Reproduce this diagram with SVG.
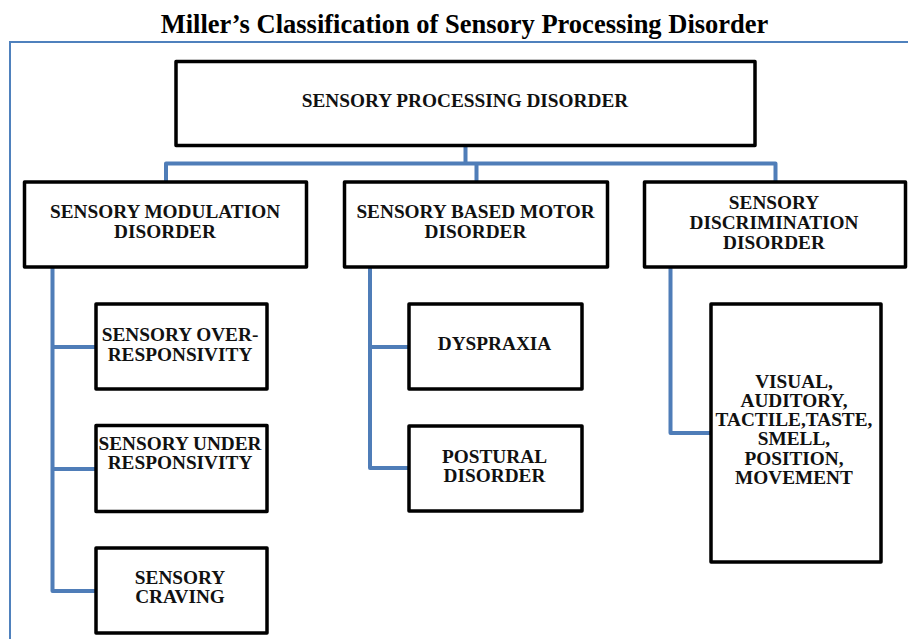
<svg xmlns="http://www.w3.org/2000/svg" width="908" height="639" viewBox="0 0 908 639">
<style>
.title{font-family:"Liberation Serif","Times New Roman",serif;font-weight:bold;font-size:26.5px;fill:#000;text-anchor:middle}
.box{fill:#fff;stroke:#000;stroke-width:3.5;stroke-linejoin:round}
.lbl{font-family:"Liberation Serif","Times New Roman",serif;font-weight:bold;font-size:19.3px;fill:#111;text-anchor:middle}
.conn{fill:none;stroke:#4F7DB8;stroke-width:4;stroke-linejoin:round}
.frame{fill:none;stroke:#4F81BD;stroke-width:2}
</style>
<rect width="908" height="639" fill="#fff"/>
<text class="title" x="464.5" y="33">Miller’s Classification of Sensory Processing Disorder</text>
<path class="frame" d="M10,640 V42 H909"/>
<g id="connectors">
<path class="conn" d="M465.5,147 V163.5 M166,182 V163.5 H775.5 V182 M476.5,163.5 V182"/>
<path class="conn" d="M52.5,268 V591 H95 M52.5,347 H95 M52.5,469 H95"/>
<path class="conn" d="M370,268 V468 H408 M370,347 H408"/>
<path class="conn" d="M670.5,268 V433 H710"/>
</g>
<g id="spd">
<rect class="box" x="176" y="61.5" width="579" height="84"/>
<text class="lbl" x="465" y="107">SENSORY PROCESSING DISORDER</text>
</g>
<g id="smd">
<rect class="box" x="24.5" y="182" width="282" height="85"/>
<text class="lbl" x="165" y="218">SENSORY MODULATION</text>
<text class="lbl" x="165" y="238">DISORDER</text>
</g>
<g id="sbmd">
<rect class="box" x="344.5" y="182" width="263" height="85"/>
<text class="lbl" x="475.5" y="218">SENSORY BASED MOTOR</text>
<text class="lbl" x="475.5" y="238">DISORDER</text>
</g>
<g id="sdd">
<rect class="box" x="644.5" y="182" width="261" height="85"/>
<text class="lbl" x="774" y="209">SENSORY</text>
<text class="lbl" x="774" y="229">DISCRIMINATION</text>
<text class="lbl" x="774" y="249">DISORDER</text>
</g>
<g id="over">
<rect class="box" x="96" y="304" width="171" height="85"/>
<text class="lbl" x="180" y="341">SENSORY OVER-</text>
<text class="lbl" x="180" y="360.5">RESPONSIVITY</text>
</g>
<g id="under">
<rect class="box" x="96" y="425.5" width="171" height="86"/>
<text class="lbl" x="180" y="450">SENSORY UNDER</text>
<text class="lbl" x="180" y="469">RESPONSIVITY</text>
</g>
<g id="craving">
<rect class="box" x="96" y="548" width="171" height="85"/>
<text class="lbl" x="180" y="584">SENSORY</text>
<text class="lbl" x="180" y="603">CRAVING</text>
</g>
<g id="dyspraxia">
<rect class="box" x="409" y="304" width="173" height="85"/>
<text class="lbl" x="494.5" y="350">DYSPRAXIA</text>
</g>
<g id="postural">
<rect class="box" x="409" y="426" width="173" height="85"/>
<text class="lbl" x="494.5" y="463">POSTURAL</text>
<text class="lbl" x="494.5" y="482">DISORDER</text>
</g>
<g id="senses">
<rect class="box" x="711" y="304" width="170" height="258"/>
<text class="lbl" x="794" y="387.5">VISUAL,</text>
<text class="lbl" x="794" y="406.7">AUDITORY,</text>
<text class="lbl" x="794" y="426">TACTILE,TASTE,</text>
<text class="lbl" x="794" y="445.2">SMELL,</text>
<text class="lbl" x="794" y="464.5">POSITION,</text>
<text class="lbl" x="794" y="483.7">MOVEMENT</text>
</g>
</svg>
